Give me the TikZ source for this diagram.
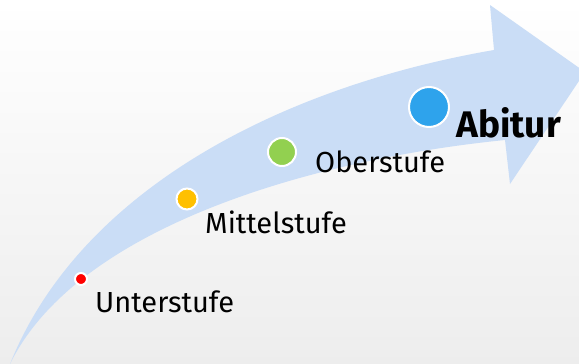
\documentclass[tikz,border=0pt]{standalone}
\usepackage{fontspec}
\setmainfont{Fira Sans}
\definecolor{arrowblue}{HTML}{CADDF6}
\definecolor{dotred}{HTML}{FF0000}
\definecolor{dotyellow}{HTML}{FFC000}
\definecolor{dotgreen}{HTML}{92D050}
\definecolor{dotblue}{HTML}{2EA3EC}
\tikzset{
  dot/.style={circle, draw=white, line width=2pt, inner sep=0pt},
  lab/.style={anchor=base west, inner sep=0pt, text=black, font=\fontsize{29}{29}\selectfont},
}
\begin{document}
\begin{tikzpicture}[x=1pt,y=-1pt]
\useasboundingbox (0,0) rectangle (579,364);
\shade[top color=white, bottom color=black!7] (0,0) rectangle (579,364);
% arrow
\fill[arrowblue] (10,364) .. controls (82,185) and (290,85) .. (494,50)
  -- (490,5) -- (585,72) -- (510,184) -- (505,140)
  .. controls (307,160) and (76,229) .. (10,364) -- cycle;
% dots
\node[dot, fill=dotred, minimum size=12pt] (u) at (81,279) {};
\node[dot, fill=dotyellow, minimum size=21pt] (m) at (187,199) {};
\node[dot, fill=dotgreen, minimum size=28pt] (o) at (282,152) {};
\node[dot, fill=dotblue, minimum size=40pt] (a) at (429,107) {};
% labels
\node[lab] (tu) at (95,312) {Unterstufe};
\node[lab] (tm) at (205,233) {Mittelstufe};
\node[lab] (to) at (315,172) {Oberstufe};
\node[lab, font=\fontsize{37}{37}\selectfont\bfseries] (ta) at (456,137) {Abitur};
\end{tikzpicture}
\end{document}
